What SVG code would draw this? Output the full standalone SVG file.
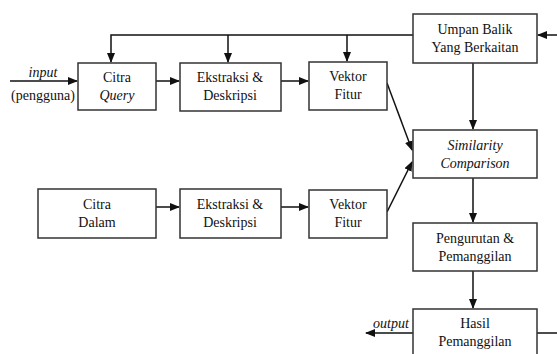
<svg xmlns="http://www.w3.org/2000/svg" width="557" height="354" viewBox="0 0 557 354">
<style>
.box{fill:#fff;stroke:#333;stroke-width:1.5}
.ln{fill:none;stroke:#111;stroke-width:1.5}
text{font-family:'Liberation Serif','DejaVu Serif',serif;font-size:14px;fill:#111;text-anchor:middle}
.it{font-style:italic}
</style>
<defs>
<marker id="ah" markerWidth="10" markerHeight="8" refX="9" refY="4" orient="auto" markerUnits="userSpaceOnUse">
<path d="M0,0 L10,4 L0,8 Z" fill="#111"/>
</marker>
</defs>
<rect width="557" height="354" fill="#fff"/>
<g id="connectors">
<line class="ln" x1="10" y1="81" x2="77" y2="81" marker-end="url(#ah)"/>
<line class="ln" x1="156" y1="81" x2="179" y2="81" marker-end="url(#ah)"/>
<line class="ln" x1="281" y1="81" x2="308" y2="81" marker-end="url(#ah)"/>
<line class="ln" x1="156" y1="207" x2="179" y2="207" marker-end="url(#ah)"/>
<line class="ln" x1="281" y1="207" x2="308" y2="207" marker-end="url(#ah)"/>
<polyline class="ln" points="413,35 111,35 111,62" marker-end="url(#ah)"/>
<line class="ln" x1="228" y1="35" x2="228" y2="62" marker-end="url(#ah)"/>
<line class="ln" x1="347" y1="35" x2="347" y2="61" marker-end="url(#ah)"/>
<line class="ln" x1="557" y1="35" x2="538" y2="35" marker-end="url(#ah)"/>
<line class="ln" x1="473" y1="63" x2="473" y2="129" marker-end="url(#ah)"/>
<line class="ln" x1="387" y1="83" x2="412" y2="150" marker-end="url(#ah)"/>
<line class="ln" x1="387" y1="212" x2="412" y2="162" marker-end="url(#ah)"/>
<line class="ln" x1="473" y1="178" x2="473" y2="222" marker-end="url(#ah)"/>
<line class="ln" x1="473" y1="271" x2="473" y2="308" marker-end="url(#ah)"/>
<line class="ln" x1="413" y1="333" x2="366" y2="333" marker-end="url(#ah)"/>
<line class="ln" x1="537" y1="333" x2="557" y2="333"/>
<text class="it" x="43" y="77">input</text>
<text x="43" y="100">(pengguna)</text>
<text class="it" x="391" y="328">output</text>
</g>
<g id="citra-query">
<rect class="box" x="78" y="63" width="78" height="47"/>
<text x="117" y="82">Citra</text>
<text class="it" x="117" y="100">Query</text>
</g>
<g id="ekstraksi-1">
<rect class="box" x="180" y="63" width="101" height="48"/>
<text x="230" y="82">Ekstraksi &amp;</text>
<text x="230" y="100">Deskripsi</text>
</g>
<g id="vektor-1">
<rect class="box" x="309" y="62" width="78" height="48"/>
<text x="348" y="81">Vektor</text>
<text x="348" y="99">Fitur</text>
</g>
<g id="umpan-balik">
<rect class="box" x="413" y="14" width="124" height="49"/>
<text x="475" y="34">Umpan Balik</text>
<text x="475" y="52">Yang Berkaitan</text>
</g>
<g id="similarity">
<rect class="box" x="413" y="130" width="124" height="48"/>
<text class="it" x="475" y="150">Similarity</text>
<text class="it" x="475" y="168">Comparison</text>
</g>
<g id="citra-dalam">
<rect class="box" x="38" y="189" width="118" height="49"/>
<text x="97" y="209">Citra</text>
<text x="97" y="227">Dalam</text>
</g>
<g id="ekstraksi-2">
<rect class="box" x="180" y="189" width="101" height="49"/>
<text x="230" y="209">Ekstraksi &amp;</text>
<text x="230" y="227">Deskripsi</text>
</g>
<g id="vektor-2">
<rect class="box" x="309" y="190" width="78" height="48"/>
<text x="348" y="209">Vektor</text>
<text x="348" y="227">Fitur</text>
</g>
<g id="pengurutan">
<rect class="box" x="413" y="223" width="124" height="48"/>
<text x="475" y="243">Pengurutan &amp;</text>
<text x="475" y="261">Pemanggilan</text>
</g>
<g id="hasil">
<rect class="box" x="413" y="309" width="124" height="50"/>
<text x="475" y="328">Hasil</text>
<text x="475" y="346">Pemanggilan</text>
</g>
</svg>
